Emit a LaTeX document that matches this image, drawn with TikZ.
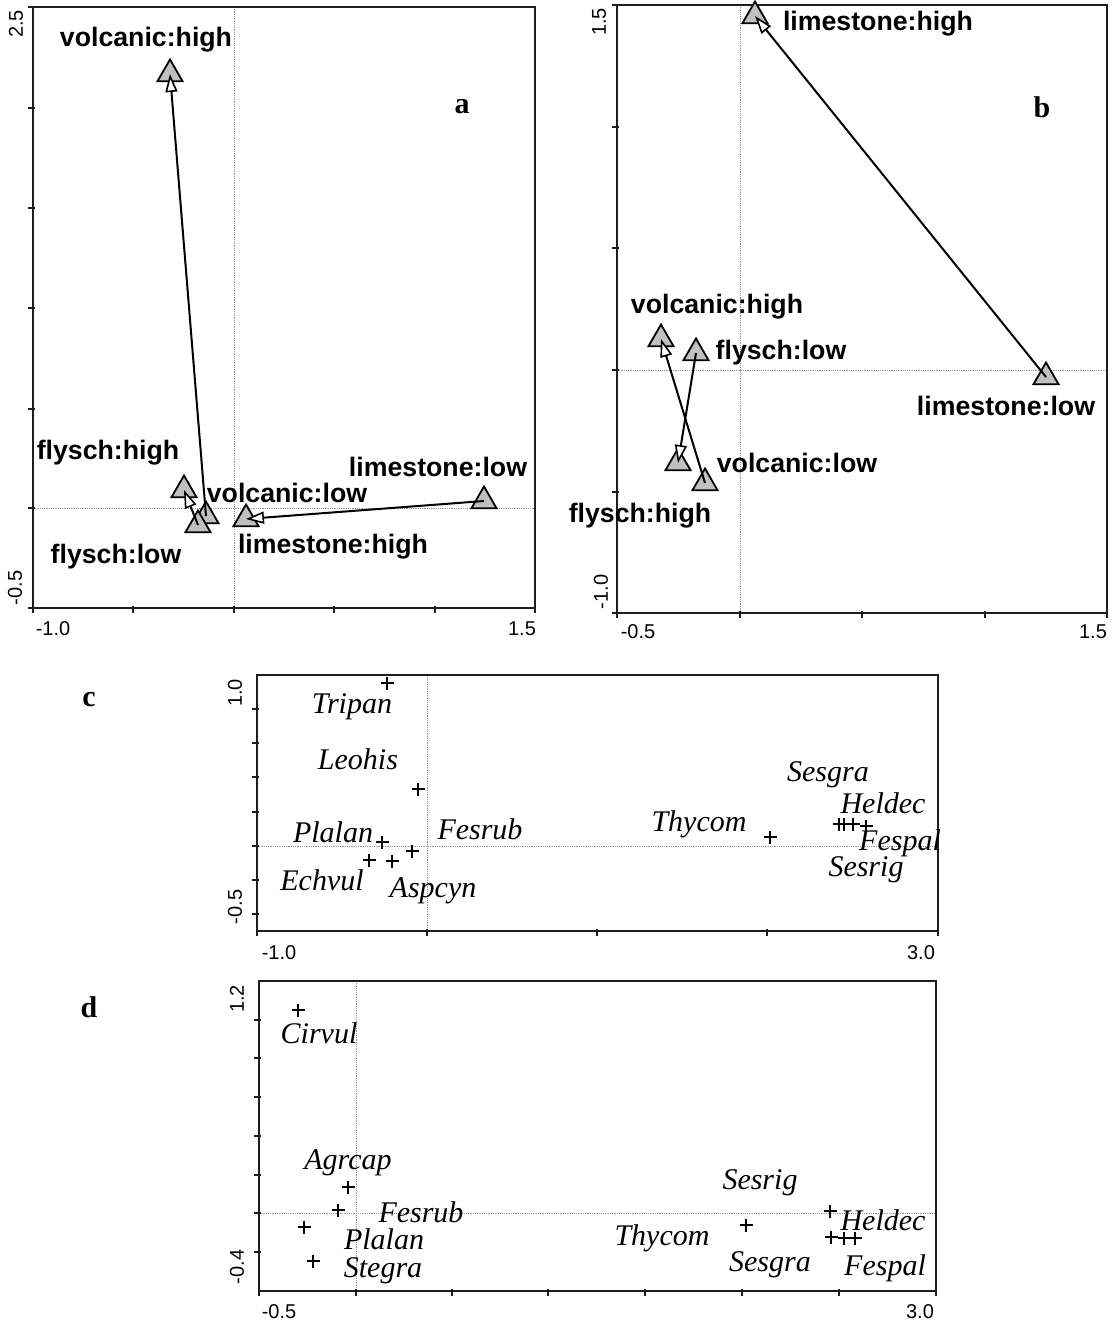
\documentclass[tikz,border=0pt]{standalone}
\usepackage{fontspec}
\setmainfont{Liberation Serif}
\setsansfont{Liberation Sans}
\usetikzlibrary{arrows.meta, shapes.geometric}
\definecolor{triC}  {RGB}{192,192,192}
\definecolor{frameC}{RGB}{ 30, 30, 30}
\definecolor{zeroC} {RGB}{150,150,150}

\begin{document}
\begin{tikzpicture}[x=1pt, y=-1pt,
  plotframe/.style={frameC, line width=2pt},
  zeroline/.style={zeroC, line width=0.8pt, densely dotted},
  axtick/.style={frameC, line width=1.4pt},
  ticklbl/.style={font=\sffamily\fontsize{20}{20}\selectfont, inner sep=0pt},
  tri/.style={draw, fill=triC, line width=1.8pt, regular polygon,
    regular polygon sides=3, minimum size=29pt, inner sep=0pt},
  vec/.style={line width=2pt,
    -{Triangle[fill=white, length=18pt, width=12pt, line width=1.6pt]}},
  cat/.style={font=\sffamily\bfseries\fontsize{26.7}{27}\selectfont, inner sep=0pt},
  spp/.style={font=\itshape\fontsize{30}{30}\selectfont, inner sep=0pt},
  spmark/.style={line width=1.4pt},
  tag/.style={font=\bfseries\fontsize{30}{30}\selectfont, inner sep=0pt}]

\useasboundingbox (0,0) rectangle (1117,1323);

% ============================================================
% PANEL A — category centroids, arrows low -> high
% ============================================================
\draw[zeroline] (234,7) -- (234,608);
\draw[zeroline] (33,508) -- (535,508);
\draw[plotframe] (33,7) rectangle (535,608);

% Axis ticks
\foreach \x in {33,133,234,334,435,535}
  \draw[axtick] (\x,606) -- (\x,613);
\foreach \y in {7,108,208,308,409,508,608}
  \draw[axtick] (28,\y) -- (35,\y);
\node[ticklbl, rotate=90] (aY1) at (16,24)  {2.5};
\node[ticklbl, rotate=90] (aY0) at (15,588) {-0.5};
\node[ticklbl] (aX0) at (53,629)  {-1.0};
\node[ticklbl] (aX1) at (522,629) {1.5};

% Centroids
\node[tri] (aVH) at (170,74)  {};
\node[tri] (aFH) at (184,490) {};
\node[tri] (aVL) at (206,516) {};
\node[tri] (aFL) at (198,525) {};
\node[tri] (aLL) at (484,501) {};
\node[tri] (aLH) at (246,519) {};

\draw[vec] (aVL.center) -- (aVH.center);
\draw[vec] (aFL.center) -- (aFH.center);
\draw[vec] (aLL.center) -- (aLH.center);

% Labels
\node[cat] (aVHl) at (146,40)  {volcanic:high};
\node[cat] (aFHl) at (108,453) {flysch:high};
\node[cat] (aVLl) at (287,493) {volcanic:low};
\node[cat] (aLLl) at (438,467) {limestone:low};
\node[cat] (aLHl) at (333,547) {limestone:high};
\node[cat] (aFLl) at (116,557) {flysch:low};
\node[tag] (aTag) at (462,107) {a};

% ============================================================
% PANEL B — second axis pair
% ============================================================
\draw[zeroline] (740,5) -- (740,613);
\draw[zeroline] (617,370) -- (1107,370);
\draw[plotframe] (617,5) rectangle (1107,613);

% Axis ticks
\foreach \x in {617,740,862,985,1107}
  \draw[axtick] (\x,611) -- (\x,618);
\foreach \y in {5,127,248,370,492,613}
  \draw[axtick] (612,\y) -- (619,\y);
\node[ticklbl, rotate=90] (bY1) at (599,22)  {1.5};
\node[ticklbl, rotate=90] (bY0) at (601,592) {-1.0};
\node[ticklbl] (bX0) at (638,632)  {-0.5};
\node[ticklbl] (bX1) at (1093,632) {1.5};

% Centroids
\node[tri] (bLH) at (755,16)  {};
\node[tri] (bLL) at (1046,377) {};
\node[tri] (bVH) at (661,339) {};
\node[tri] (bFL) at (696,353) {};
\node[tri] (bFH) at (678,463) {};
\node[tri] (bVL) at (705,483) {};

\draw[vec] (bLL.center) -- (bLH.center);
\draw[vec] (bFL.center) -- (bFH.center);
\draw[vec] (bVL.center) -- (bVH.center);

% Labels
\node[cat] (bLHl) at (878,24)  {limestone:high};
\node[cat] (bVHl) at (717,307) {volcanic:high};
\node[cat] (bFLl) at (781,353) {flysch:low};
\node[cat] (bLLl) at (1006,406) {limestone:low};
\node[cat] (bVLl) at (797,463) {volcanic:low};
\node[cat] (bFHl) at (640,516) {flysch:high};
\node[tag] (bTag) at (1042,107) {b};

% ============================================================
% PANEL C — species scores
% ============================================================
\draw[zeroline] (427,675) -- (427,931);
\draw[zeroline] (257,846) -- (938,846);
\draw[plotframe] (257,675) rectangle (938,931);

% Axis ticks
\foreach \x in {257,427,597,767,938}
  \draw[axtick] (\x,929) -- (\x,936);
\foreach \y in {709,743,777,812,846,880,914}
  \draw[axtick] (252,\y) -- (259,\y);
\node[ticklbl, rotate=90] (cY1) at (235,693) {1.0};
\node[ticklbl, rotate=90] (cY0) at (235,907) {-0.5};
\node[ticklbl] (cX0) at (279,953) {-1.0};
\node[ticklbl] (cX1) at (921,953) {3.0};

% Species positions
\foreach \x/\y in {387/683, 418/789, 382/842, 412/851, 369/860, 392/861,
                   770/837, 839/824, 844/824, 853/824, 866/826}
  \draw[spmark] (\x,\y) +(-6.5,0) -- +(6.5,0) +(0,-6.5) -- +(0,6.5);

% Labels
\node[spp] (cTri) at (352,707) {Tripan};
\node[spp] (cLeo) at (358,759) {Leohis};
\node[spp] (cPla) at (333,832) {Plalan};
\node[spp] (cFru) at (480,829) {Fesrub};
\node[spp] (cEch) at (322,880) {Echvul};
\node[spp] (cAsp) at (433,891) {Aspcyn};
\node[spp] (cThy) at (699,824) {Thycom};
\node[spp] (cSgr) at (828,775) {Sesgra};
\node[spp] (cHel) at (883,803) {Heldec};
\node[spp] (cFpa) at (900,843) {Fespal};
\node[spp] (cSri) at (866,870) {Sesrig};
\node[tag] (cTag) at (89,700) {c};

% ============================================================
% PANEL D — species scores
% ============================================================
\draw[zeroline] (356,981) -- (356,1291);
\draw[zeroline] (259,1213) -- (936,1213);
\draw[plotframe] (259,981) rectangle (936,1291);

% Axis ticks
\foreach \x in {259,356,452,548,645,742,839,936}
  \draw[axtick] (\x,1289) -- (\x,1296);
\foreach \y in {1020,1058,1097,1136,1175,1213,1252}
  \draw[axtick] (254,\y) -- (261,\y);
\node[ticklbl, rotate=90] (dY1) at (237,999)  {1.2};
\node[ticklbl, rotate=90] (dY0) at (237,1267) {-0.4};
\node[ticklbl] (dX0) at (279,1312) {-0.5};
\node[ticklbl] (dX1) at (920,1312) {3.0};

% Species positions
\foreach \x/\y in {298/1010, 348/1187, 338/1210, 304/1227, 313/1261,
                   746/1225, 830/1211, 831/1237, 844/1238, 855/1238}
  \draw[spmark] (\x,\y) +(-6.5,0) -- +(6.5,0) +(0,-6.5) -- +(0,6.5);

% Labels
\node[spp] (dCir) at (319,1033) {Cirvul};
\node[spp] (dAgr) at (348,1163) {Agrcap};
\node[spp] (dFru) at (421,1212) {Fesrub};
\node[spp] (dPla) at (384,1239) {Plalan};
\node[spp] (dSte) at (383,1271) {Stegra};
\node[spp] (dThy) at (662,1238) {Thycom};
\node[spp] (dSri) at (760,1183) {Sesrig};
\node[spp] (dSgr) at (770,1265) {Sesgra};
\node[spp] (dHel) at (883,1220) {Heldec};
\node[spp] (dFpa) at (885,1268) {Fespal};
\node[tag] (dTag) at (89,1007) {d};

\end{tikzpicture}
\end{document}
